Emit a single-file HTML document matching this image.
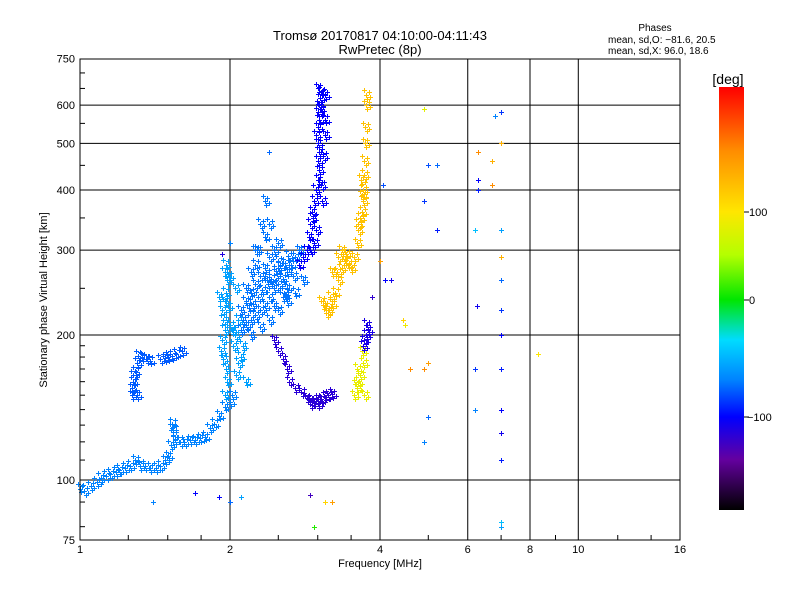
<!DOCTYPE html>
<html><head><meta charset="utf-8">
<style>
html,body{margin:0;padding:0;background:#fff;}
svg{display:block;font-family:"Liberation Sans","DejaVu Sans",sans-serif;}
</style></head>
<body>
<svg id="chart" width="800" height="600" viewBox="0 0 800 600">
  <rect width="800" height="600" fill="#fff"/>
  <text x="380" y="40" font-size="13" text-anchor="middle">Tromsø 20170817 04:10:00-04:11:43</text>
  <text x="380" y="54" font-size="13" text-anchor="middle">RwPretec (8p)</text>
  <g font-size="10">
    <text x="655" y="31" text-anchor="middle">Phases</text>
    <text x="608" y="43">mean, sd,O: −81.6, 20.5</text>
    <text x="608" y="54">mean, sd,X:  96.0, 18.6</text>
  </g>
  <g id="grid"></g>
  <g id="points"></g>
  <rect x="80" y="59" width="600" height="481" fill="none" stroke="#000" stroke-width="1"/>
  <g id="axes" font-size="11"></g>
  <text x="380" y="567" font-size="11" text-anchor="middle">Frequency [MHz]</text>
  <text x="0" y="0" font-size="11" text-anchor="middle" transform="translate(47,300) rotate(-90)">Stationary phase Virtual Height [km]</text>
  <defs>
    <linearGradient id="cbar" x1="0" y1="0" x2="0" y2="1">
      <stop offset="0" stop-color="#ff0000"/>
      <stop offset="0.15" stop-color="#ff8c00"/>
      <stop offset="0.295" stop-color="#ffe600"/>
      <stop offset="0.397" stop-color="#b4ff00"/>
      <stop offset="0.503" stop-color="#00e600"/>
      <stop offset="0.598" stop-color="#00dcff"/>
      <stop offset="0.693" stop-color="#0082ff"/>
      <stop offset="0.78" stop-color="#0000ff"/>
      <stop offset="0.88" stop-color="#6400a0"/>
      <stop offset="1" stop-color="#000000"/>
    </linearGradient>
  </defs>
  <rect x="719" y="87" width="25" height="423" fill="url(#cbar)"/>
  <text x="728" y="84" font-size="14" text-anchor="middle">[deg]</text>
  <g font-size="11">
    <line x1="744" y1="212" x2="749" y2="212" stroke="#000"/>
    <text x="749" y="216">100</text>
    <line x1="744" y1="300" x2="749" y2="300" stroke="#000"/>
    <text x="749" y="304">0</text>
    <line x1="744" y1="417" x2="749" y2="417" stroke="#000"/>
    <text x="747" y="421">−100</text>
  </g>
</svg>
<script>
const xTicks = [1, 2, 4, 6, 8, 10, 16];
const xGrid = [2, 4, 6, 8, 10];
const yTicks = [75, 100, 200, 300, 400, 500, 600, 750];
const yGrid = [100, 200, 300, 400, 500, 600];
const yMinor = [80, 90, 110, 120, 130, 140, 150, 160, 170, 180, 190, 250, 350, 450, 550, 650, 700];
const xMinor = [1.25, 1.5, 1.75, 2.5, 3, 3.5, 5, 7, 9, 12, 14];

// traces: frequency [MHz], height [km], phase [deg]
const traceAFreq = [1.0,1.02,1.05,1.08,1.1,1.13,1.15,1.18,1.2,1.23,1.26,1.29,1.32,1.35,1.38,1.42,1.45,1.48,1.5,1.52,1.55,1.59,1.62,1.66,1.7,1.74,1.78,1.82,1.86,1.9,1.95,2.0,2.02,1.53,1.53,1.54];
const traceAHeight = [96,95,97,99,101,102,103,104,105,106,107,110,107,107,106,106,107,110,112,118,121,120,120,121,121,122,123,128,131,136,142,145,150,128,131,124];
const traceAPhase = -60;
const traceCFreq = [1.27,1.27,1.28,1.29,1.3,1.31,1.33,1.36,1.38,1.45,1.48,1.5,1.53,1.56,1.6,1.28,1.3];
const traceCHeight = [150,155,160,168,175,181,180,178,177,178,179,180,181,183,185,165,150];
const traceCPhase = -75;
const traceDFreq = [1.95,1.97,1.96,1.94,1.92,1.93,1.95,1.94,1.93,1.95,1.96,1.97,1.95,1.96,2.0,2.02,2.05,2.08,2.08,2.1,2.06,1.9,1.98,2.03,2.12,2.15,2.05,1.99];
const traceDHeight = [150,160,170,178,185,195,205,215,225,235,245,260,270,280,210,205,200,215,175,180,165,240,230,190,190,160,250,265];
const traceDPhase = -50;
const traceEFreq = [2.1,2.15,2.2,2.25,2.3,2.35,2.4,2.45,2.5,2.55,2.6,2.65,2.7,2.75,2.1,2.15,2.2,2.25,2.3,2.35,2.4,2.45,2.5,2.2,2.3,2.4,2.5,2.6,2.7,2.8,2.3,2.35,2.25,2.2,2.25,2.35,2.4,2.55,2.6,2.5,2.45,2.12,2.18,2.28,2.38,2.48,2.58,2.68,2.22,2.32,2.42,2.52,2.62,2.15,2.27,2.37,2.47,2.57];
const traceEHeight = [205,210,215,220,225,230,240,250,255,262,270,280,290,300,225,235,245,255,265,275,290,300,310,200,208,215,225,235,245,260,340,380,300,270,280,320,340,240,250,285,230,215,228,240,255,268,282,265,232,248,262,278,292,250,300,260,272,245];
const traceEPhase = -65;
const traceFFreq = [2.75,2.8,2.85,2.88,2.9,2.92,2.95,2.97,3.0,3.02,3.0,3.02,3.0,2.98,3.0,3.02,3.0,3.02,3.03,3.05,3.0,3.1,3.1,3.1,2.9,2.95,2.93,3.05,3.08,3.06,2.98,3.04];
const traceFHeight = [280,290,300,320,340,360,380,400,420,440,460,480,500,520,540,560,580,600,620,640,650,630,560,520,300,310,350,410,470,380,330,590];
const traceFPhase = -112;
const traceGFreq = [2.45,2.5,2.55,2.6,2.63,2.7,2.78,2.85,2.9,2.95,3.0,3.05,3.1,3.15,3.2,2.9,3.0];
const traceGHeight = [195,185,178,170,160,155,152,148,146,145,147,147,149,150,151,144,144];
const traceGPhase = -135;
const traceHFreq = [3.05,3.1,3.15,3.2,3.25,3.3,3.35,3.4,3.45,3.5,3.55,3.6,3.62,3.65,3.7,3.7,3.72,3.72,3.73,3.74,3.75,3.75,3.3,3.35,3.2,3.68,3.66,3.12,3.18,3.28,3.42,3.62,3.68];
const traceHHeight = [235,230,225,232,245,260,275,285,280,275,290,310,330,350,380,400,430,460,500,540,600,630,290,300,270,360,420,222,240,270,295,340,390];
const traceHPhase = 120;
const traceIFreq = [3.55,3.6,3.62,3.65,3.6,3.7,3.68,3.72,3.58];
const traceIHeight = [150,155,160,165,170,175,185,150,158];
const traceIPhase = 85;
const traceJFreq = [3.72,3.75,3.78,3.7,3.76];
const traceJHeight = [195,200,205,190,210];
const traceJPhase = -125;
const scatterFreq = [4.5,4.45,4.9,4.9,5.0,5.2,5.2,6.3,6.3,6.3,6.2,6.25,6.8,7.0,7.0,7.0,7.0,7.0,7.0,7.0,7.0,7.0,7.0,7.0,7.0,7.0,6.7,6.7,6.2,6.2,8.3,5.0,5.0,4.9,4.9,4.6,2.0,2.1,1.4,1.9,1.7,2.9,3.1,3.2,2.95,4.05,4.2,4.0,4.1,3.85,2.4,2.0,1.93];
const scatterHeight = [210,215,590,380,450,330,450,480,420,400,330,230,570,580,500,330,290,260,225,200,170,140,125,110,82,80,460,410,140,170,183,135,175,170,120,170,90,92,90,92,94,93,90,90,80,410,260,285,260,240,480,310,295];
const scatterPhase = [90,110,80,-90,-80,-100,-70,150,-110,-100,-40,-120,-60,-90,130,-50,130,-70,-90,-110,-100,-110,-120,-100,-40,-50,130,150,-60,-90,100,-70,140,150,-60,150,-70,-50,-60,-110,-110,-150,110,140,10,-80,-120,140,-110,-140,-70,-60,-130];

const X0 = 80, XOCT = 150, Y100 = 480, YOCT = 145;
function xScale(f){ return X0 + XOCT * Math.log2(f); }
function yScale(h){ return Y100 - YOCT * Math.log2(h / 100); }

const stops = [[-230,[0,0,0]],[-170,[100,0,160]],[-110,[0,0,255]],[-60,[0,130,255]],[-30,[0,220,255]],[0,[0,230,0]],[50,[180,255,0]],[100,[255,230,0]],[150,[255,140,0]],[240,[255,0,0]]];
function phaseColor(p){
  if (p <= stops[0][0]) return 'rgb(0,0,0)';
  for (let i = 1; i < stops.length; i++){
    if (p <= stops[i][0]){
      const a = stops[i-1], b = stops[i], t = (p - a[0]) / (b[0] - a[0]);
      const c = a[1].map((v, k) => Math.round(v + (b[1][k] - v) * t));
      return 'rgb(' + c.join(',') + ')';
    }
  }
  return 'rgb(255,0,0)';
}

const NS = 'http://www.w3.org/2000/svg';
const grid = document.getElementById('grid');
const axes = document.getElementById('axes');
const pts = document.getElementById('points');

xGrid.forEach(v => {
  const l = document.createElementNS(NS, 'line');
  l.setAttribute('x1', xScale(v)); l.setAttribute('x2', xScale(v));
  l.setAttribute('y1', 59); l.setAttribute('y2', 540);
  l.setAttribute('stroke', '#000'); l.setAttribute('stroke-width', '1');
  
  
  grid.appendChild(l);
});
yGrid.forEach(v => {
  const l = document.createElementNS(NS, 'line');
  l.setAttribute('x1', 80); l.setAttribute('x2', 680);
  l.setAttribute('y1', yScale(v)); l.setAttribute('y2', yScale(v));
  l.setAttribute('stroke', '#000'); l.setAttribute('stroke-width', '1');
  
  
  grid.appendChild(l);
});
xTicks.forEach(v => {
  const t = document.createElementNS(NS, 'text');
  t.setAttribute('x', xScale(v)); t.setAttribute('y', 553);
  t.setAttribute('text-anchor', 'middle');
  t.textContent = v;
  
  
  axes.appendChild(t);
});
yTicks.forEach(v => {
  const t = document.createElementNS(NS, 'text');
  t.setAttribute('x', 75); t.setAttribute('y', yScale(v) + 4);
  t.setAttribute('text-anchor', 'end');
  t.textContent = v;
  
  
  axes.appendChild(t);
});
yMinor.forEach(v => {
  const l = document.createElementNS(NS, 'line');
  l.setAttribute('x1', 80); l.setAttribute('x2', 85);
  l.setAttribute('y1', yScale(v)); l.setAttribute('y2', yScale(v));
  l.setAttribute('stroke', '#000');
  
  
  axes.appendChild(l);
});
xMinor.forEach(v => {
  const l = document.createElementNS(NS, 'line');
  l.setAttribute('x1', xScale(v)); l.setAttribute('x2', xScale(v));
  l.setAttribute('y1', 535); l.setAttribute('y2', 540);
  l.setAttribute('stroke', '#000');
  
  
  axes.appendChild(l);
});

function drawPoint(f, h, p, name){
  const x = Math.round(xScale(f)), y = Math.round(yScale(h));
  const path = document.createElementNS(NS, 'path');
  path.setAttribute('d', 'M' + (x - 2) + ' ' + (y + 0.5) + 'h5M' + (x + 0.5) + ' ' + (y - 2) + 'v5');
  path.setAttribute('stroke', phaseColor(p));
  path.setAttribute('stroke-width', '1');
  
  
  pts.appendChild(path);
}
// each echo is drawn as a small cluster of pulses (fixed visual spread)
const spreadF = [1, 1.012, 0.99, 1.018, 1.006];
const spreadH = [1, 1.015, 1.022, 0.99, 0.982];
function drawTrace(fs, hs, p, name){
  fs.forEach((f, i) => {
    spreadF.forEach((sf, k) => drawPoint(f * sf, hs[i] * spreadH[k], p, name));
  });
}
drawTrace(traceAFreq, traceAHeight, traceAPhase, 'echo-o-lower');
drawTrace(traceCFreq, traceCHeight, traceCPhase, 'echo-o-es');
drawTrace(traceDFreq, traceDHeight, traceDPhase, 'echo-o-vertical');
drawTrace(traceEFreq, traceEHeight, traceEPhase, 'echo-o-f-layer');
drawTrace(traceFFreq, traceFHeight, traceFPhase, 'echo-o-cusp');
drawTrace(traceGFreq, traceGHeight, traceGPhase, 'echo-o-u');
drawTrace(traceHFreq, traceHHeight, traceHPhase, 'echo-x-f-layer');
drawTrace(traceIFreq, traceIHeight, traceIPhase, 'echo-x-lower');
drawTrace(traceJFreq, traceJHeight, traceJPhase, 'echo-purple');
scatterFreq.forEach((f, i) => drawPoint(f, scatterHeight[i], scatterPhase[i], 'echo-scatter'));
</script>
</body></html>
